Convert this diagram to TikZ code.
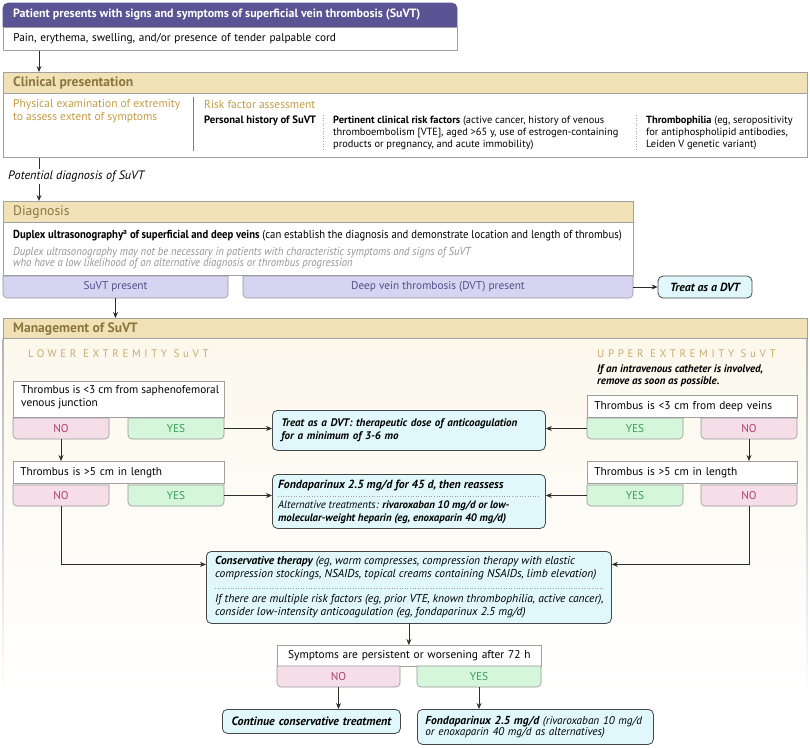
\documentclass[tikz,border=0pt]{standalone}
\usepackage{fontspec}
\setmainfont{PT Sans}
\newfontfamily\narrowf[FakeStretch=0.92]{PT Sans}
\newfontfamily\spacedf[LetterSpace=33]{PT Sans}
\usetikzlibrary{arrows.meta,calc}
\definecolor{purp}{RGB}{91,84,148}
\definecolor{tan}{RGB}{240,226,182}
\definecolor{hdrgold}{RGB}{140,118,62}
\definecolor{subgold}{RGB}{196,156,70}
\definecolor{spgold}{RGB}{200,172,112}
\definecolor{boxgray}{RGB}{160,160,160}
\definecolor{bargray}{RGB}{150,150,150}
\definecolor{lav}{RGB}{214,212,240}
\definecolor{lavtext}{RGB}{84,78,140}
\definecolor{treatfill}{RGB}{224,248,252}
\definecolor{boxdark}{RGB}{70,70,70}
\definecolor{nofill}{RGB}{246,222,232}
\definecolor{notext}{RGB}{176,64,110}
\definecolor{yesfill}{RGB}{214,246,220}
\definecolor{yestext}{RGB}{56,156,86}
\definecolor{panelcream}{RGB}{252,248,236}
\definecolor{greytext}{RGB}{150,150,150}
\definecolor{linecol}{RGB}{45,45,45}
\newcommand\fs[2]{\fontsize{#1}{#2}\selectfont}
% bottom-rounded bar: name, x1, y1, x2, y2, fill, text colour, text
\newcommand{\mkbar}[8]{%
  \path[fill=#6, draw=bargray, line width=0.6pt] (#2,-#3) -- (#2,{-#5+4})
    arc[start angle=180,end angle=270,radius=4] -- ({#4-4},-#5)
    arc[start angle=270,end angle=360,radius=4] -- (#4,-#3) -- cycle;
  \node[inner sep=0, minimum width={#4-#2}, minimum height={#5-#3}, text=#7, font=\fs{11.3}{13}] (#1) at ({(#2+#4)/2},{-(#3+#5)/2}) {#8};
}
\tikzset{
  wbox/.style={draw=boxgray, fill=white, line width=0.7pt, inner xsep=7pt, inner ysep=0pt, anchor=north west, align=left},
  treatbox/.style={draw=boxdark, fill=treatfill, rounded corners=5pt, line width=0.8pt, inner xsep=8pt, inner ysep=0pt, anchor=north west, align=left},
  arr/.style={-{Stealth[length=6pt,width=5pt]}, line width=0.8pt, draw=linecol},
  conn/.style={line width=0.8pt, draw=linecol},
  dotsep/.style={draw=boxgray, line width=0.6pt, dotted},
  txt/.style={inner sep=0pt, anchor=west},
  mtxt/.style={inner sep=0pt, anchor=north west, align=left},
  hdr/.style={txt, text=hdrgold, font=\bfseries\fs{13.6}{15}},
}
\begin{document}
\begin{tikzpicture}[x=1pt,y=1pt]
\useasboundingbox (0,0) rectangle (810,-747);
\coordinate (c39) at (39,0);

% ---------- top box
\path[fill=purp, draw=purp, line width=0.6pt] (3,-27) -- (3,-8) arc[start angle=180,end angle=90,radius=5]
   -- (452,-3) arc[start angle=90,end angle=0,radius=5] -- (457,-27) -- cycle;
\node[txt, text=white, font=\bfseries\fs{12}{14}] (toph) at (13,-15) {Patient presents with signs and symptoms of superficial vein thrombosis (SuVT)};
\node[wbox, inner xsep=10pt, minimum width=454, minimum height=23, text width=434, font=\fs{11.3}{13}] (topb) at (3,-27) {Pain, erythema, swelling, and/or presence of tender palpable cord};

% ---------- clinical presentation
\node[wbox, minimum width=804, minimum height=85] (clin) at (3,-72) {};
\path[fill=tan, draw=boxgray, line width=0.7pt] (3,-72) rectangle (807,-93);
\node[hdr] (clinh) at (13,-83) {Clinical presentation};
\node[mtxt, text=subgold, font=\fs{11.5}{13}] (phys) at (13,-99) {Physical examination of extremity\\to assess extent of symptoms};
\draw[draw=gray, line width=0.8pt] (193,-97) -- (193,-151);
\node[txt, text=subgold, font=\fs{11.5}{13}] (riskh) at (204,-104) {Risk factor assessment};
\node[txt, font=\bfseries\fs{10.7}{12}] (pers) at (204,-121) {Personal history of SuVT};
\draw[dotsep] (323,-115) -- (323,-151);
\node[mtxt, font=\fs{10.4}{12}] (pert) at (333,-116) {\textbf{Pertinent clinical risk factors} (active cancer, history of venous\\thromboembolism [VTE], aged >65 y, use of estrogen-containing\\products or pregnancy, and acute immobility)};
\draw[dotsep] (636,-115) -- (636,-151);
\node[mtxt, font=\fs{10.4}{12}] (thph) at (646,-116) {\textbf{Thrombophilia} (eg, seropositivity\\for antiphospholipid antibodies,\\Leiden V genetic variant)};

% ---------- potential diagnosis
\node[txt, font=\itshape\fs{12.2}{14}] (pot) at (8,-176) {Potential diagnosis of SuVT};
\draw[arr] ([xshift=36pt]topb.south west) -- ([xshift=36pt]topb.south west |- clin.north);
\draw[conn] (clin.south -| c39) -- ([yshift=1pt]pot.north -| c39);

% ---------- diagnosis
\node[wbox, minimum width=630, minimum height=74] (diag) at (3,-201) {};
\path[fill=tan, draw=boxgray, line width=0.7pt] (3,-201) rectangle (633,-222);
\draw[arr] ([yshift=-2pt]pot.south -| c39) -- (diag.north -| c39);
\node[txt, text=hdrgold, font=\fs{13.6}{15}] (diagh) at (13,-212) {Diagnosis};
\node[txt, font=\narrowf\fs{11.6}{13}] (dup) at (13,-236) {\textbf{Duplex ultrasonography\textsuperscript{a} of superficial and deep veins} (can establish the diagnosis and demonstrate location and length of thrombus)};
\node[mtxt, text=greytext, font=\narrowf\itshape\fs{11.6}{11.5}] (dupn) at (13,-247) {Duplex ultrasonography may not be necessary in patients with characteristic symptoms and signs of SuVT\\who have a low likelihood of an alternative diagnosis or thrombus progression};

\mkbar{suvt}{3}{276}{228}{298}{lav}{lavtext}{SuVT present}
\mkbar{dvt}{243}{276}{633}{298}{lav}{lavtext}{Deep vein thrombosis (DVT) present}
\node[treatbox, anchor=center, minimum width=94, minimum height=22, inner xsep=4pt, font=\bfseries\itshape\fs{11.8}{13}] (tdvt0) at (705,-287) {Treat as a DVT};
\draw[arr] (dvt.east) -- (dvt.east -| tdvt0.west);

% ---------- management panel
\shade[top color=panelcream, bottom color=white] (3,-338) rectangle (807,-700);
\shade[top color=boxgray!80, bottom color=white] (2.6,-338) rectangle (3.4,-698);
\shade[top color=boxgray!80, bottom color=white] (806.6,-338) rectangle (807.4,-698);
\node[anchor=north west, inner sep=0, minimum width=804, minimum height=20, fill=tan, draw=boxgray, line width=0.7pt] (mgmt) at (3,-318) {};
\draw[arr] (suvt.south) -- (suvt.south |- mgmt.north);
\node[hdr] (mgmth) at (13,-329) {Management of SuVT};
\node[txt, text=spgold, font=\spacedf\fs{11}{13}] (lowh) at (28,-354) {LOWER EXTREMITY SuVT};
\node[txt, text=spgold, font=\spacedf\fs{11}{13}] (upph) at (597,-354) {UPPER EXTREMITY SuVT};
\node[mtxt, font=\bfseries\itshape\fs{10.9}{12}] (iv) at (597,-365) {If an intravenous catheter is involved,\\remove as soon as possible.};

% lower extremity
\node[wbox, minimum width=211, minimum height=36] (lb1) at (13,-381) {};
\node[mtxt, font=\fs{11.3}{13}] (lb1t) at (21,-385) {Thrombus is <3 cm from saphenofemoral\\venous junction};
\mkbar{lno1}{13}{418}{109}{439}{nofill}{notext}{NO}
\mkbar{lyes1}{128}{418}{224}{439}{yesfill}{yestext}{YES}
\node[wbox, minimum width=211, minimum height=22, text width=197, font=\fs{11.3}{13}] (lb2) at (13,-461) {Thrombus is >5 cm in length};
\mkbar{lno2}{13}{485}{109}{506}{nofill}{notext}{NO}
\mkbar{lyes2}{128}{485}{224}{506}{yesfill}{yestext}{YES}

% upper extremity
\node[wbox, minimum width=210, minimum height=22, text width=196, font=\fs{11.4}{13}] (rb1) at (587,-395) {Thrombus is <3 cm from deep veins};
\mkbar{ryes1}{587}{418}{683}{439}{yesfill}{yestext}{YES}
\mkbar{rno1}{701}{418}{797}{439}{nofill}{notext}{NO}
\node[wbox, minimum width=210, minimum height=22, text width=196, font=\fs{11.4}{13}] (rb2) at (587,-461) {Thrombus is >5 cm in length};
\mkbar{ryes2}{587}{485}{683}{506}{yesfill}{yestext}{YES}
\mkbar{rno2}{701}{485}{797}{506}{nofill}{notext}{NO}

% centre treatments
\node[treatbox, inner xsep=9pt, minimum width=273, minimum height=40, text width=255, font=\bfseries\itshape\fs{11}{13}] (treat1) at (272,-410) {Treat as a DVT: therapeutic dose of anticoagulation\\for a minimum of 3-6 mo};
\node[treatbox, minimum width=273, minimum height=54] (fond1) at (272,-474) {};
\node[txt, font=\bfseries\itshape\fs{11.8}{13}] (fond1a) at (278,-486) {Fondaparinux 2.5 mg/d for 45 d, then reassess};
\draw[dotsep] (278,-496) -- (539,-496);
\node[mtxt, font=\itshape\fs{10.8}{12.5}] (fond1b) at (278,-501) {Alternative treatments: \textbf{rivaroxaban 10 mg/d or low-}\\\textbf{molecular-weight heparin (eg, enoxaparin 40 mg/d)}};

\draw[arr] (lyes1.east) -- (lyes1.east -| treat1.west);
\draw[arr] (lyes2.east) -- (lyes2.east -| fond1.west);
\draw[arr] (ryes1.west) -- (ryes1.west -| treat1.east);
\draw[arr] (ryes2.west) -- (ryes2.west -| fond1.east);
\draw[arr] (lno1.south) -- (lno1.south |- lb2.north);
\draw[arr] (rno1.south) -- (rno1.south |- rb2.north);

% conservative therapy
\node[treatbox, minimum width=405, minimum height=72] (cons) at (206,-551) {};
\node[mtxt, font=\itshape\fs{11.5}{13}] (consa) at (215,-556) {\textbf{Conservative therapy} (eg, warm compresses, compression therapy with elastic\\compression stockings, NSAIDs, topical creams containing NSAIDs, limb elevation)};
\draw[dotsep] (215,-588) -- (603,-588);
\node[mtxt, font=\itshape\fs{11.5}{13}] (consb) at (215,-594) {If there are multiple risk factors (eg, prior VTE, known thrombophilia, active cancer),\\consider low-intensity anticoagulation (eg, fondaparinux 2.5 mg/d)};
\draw[arr] (lno2.south) |- ([yshift=23pt]cons.west);
\draw[arr] (rno2.south) |- ([yshift=23pt]cons.east);

% symptoms
\node[wbox, align=center, minimum width=264, minimum height=21, text width=250, font=\fs{11.4}{13}] (sym) at (277,-645) {Symptoms are persistent or worsening after 72 h};
\draw[arr] (cons.south) -- (cons.south |- sym.north);
\mkbar{sno}{277}{666}{400}{687}{nofill}{notext}{NO}
\mkbar{syes}{417}{666}{541}{687}{yesfill}{yestext}{YES}
\node[treatbox, align=center, minimum width=178, minimum height=24, inner xsep=4pt, text width=170, font=\bfseries\itshape\fs{12}{13}] (cont) at (222,-709) {Continue conservative treatment};
\node[treatbox, minimum width=236, minimum height=35, text width=220, font=\itshape\fs{11.2}{11.5}] (fond2) at (417,-709) {{\bfseries\fs{11.6}{11.5}Fondaparinux 2.5 mg/d} (rivaroxaban 10 mg/d\\or enoxaparin 40 mg/d as alternatives)};
\draw[arr] (sno.south) -- (sno.south |- cont.north);
\draw[arr] (syes.south) -- (syes.south |- fond2.north);
\end{tikzpicture}
\end{document}
